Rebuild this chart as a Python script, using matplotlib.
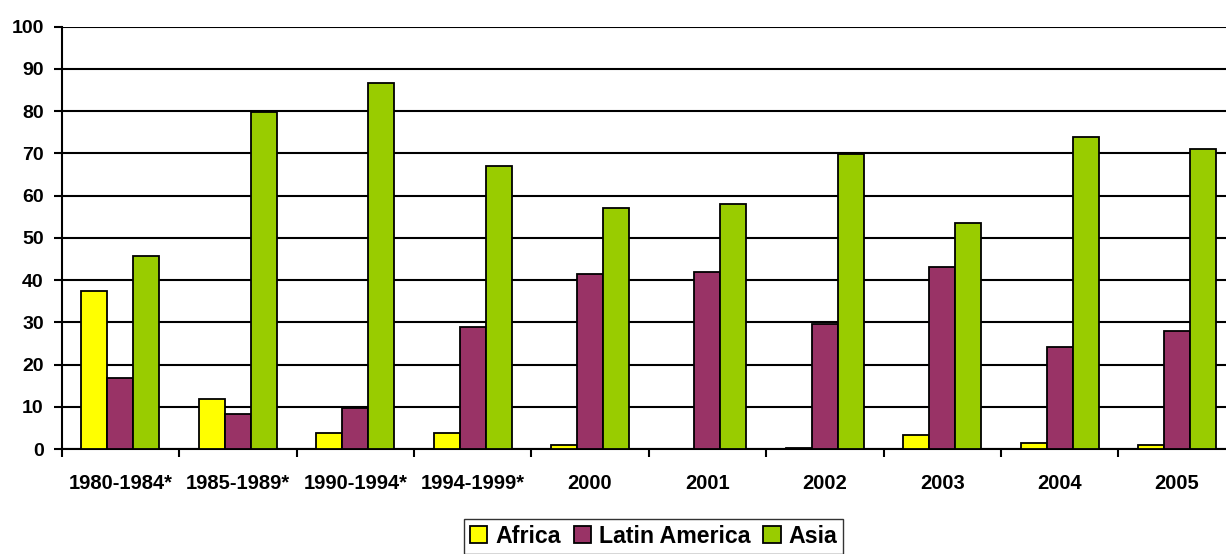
import matplotlib
matplotlib.use("Agg")
import matplotlib.pyplot as plt
import numpy as np
from matplotlib.ticker import FixedLocator, NullFormatter

categories = ["1980-1984*", "1985-1989*", "1990-1994*", "1994-1999*", "2000",
              "2001", "2002", "2003", "2004", "2005"]
africa = [37.4, 11.8, 3.8, 3.8, 0.9, 0.0, 0.3, 3.3, 1.5, 0.9]
latin_america = [16.7, 8.3, 9.6, 29.0, 41.4, 42.0, 29.5, 43.1, 24.2, 27.9]
asia = [45.6, 79.7, 86.7, 67.1, 57.1, 57.9, 69.9, 53.4, 73.9, 71.1]
series_names = ["Africa", "Latin America", "Asia"]
colors = ["#FFFF00", "#993366", "#99CC00"]

plt.rcParams['font.family'] = ['Liberation Sans', 'DejaVu Sans']
plt.rcParams['font.weight'] = 'bold'

W, H = 1226, 554
fig = plt.figure(figsize=(W / 100, H / 100), dpi=100)
left, right, top, bottom = 61.7, 1235.7, 26.7, 449.0
ax = fig.add_axes([left / W, 1 - bottom / H, (right - left) / W, (bottom - top) / H])

x = np.arange(len(categories))
bw = 0.221
for i, (vals, name, c) in enumerate(zip([africa, latin_america, asia], series_names, colors)):
    ax.bar(x + (i - 1) * bw, vals, width=bw, color=c, edgecolor='black', linewidth=1.3,
           label=name, zorder=3)

ax.set_xlim(-0.5, len(categories) - 0.5)
ax.set_ylim(0, 100)
ax.set_yticks(np.arange(0, 101, 10))
ax.yaxis.grid(True, color='black', linewidth=1.5, zorder=0)
ax.set_axisbelow(True)
for s in ['top', 'right']:
    ax.spines[s].set_visible(False)
ax.spines['left'].set_linewidth(1.5)
ax.spines['bottom'].set_linewidth(1.5)

ax.set_xticks(x)
ax.set_xticklabels(categories, fontsize=14.5, fontweight='bold')
ax.tick_params(axis='x', which='major', length=0, pad=18)
ax.xaxis.set_minor_locator(FixedLocator(np.arange(-0.5, len(categories), 1.0)))
ax.xaxis.set_minor_formatter(NullFormatter())
ax.tick_params(axis='x', which='minor', length=6, width=1.5, direction='out')
ax.tick_params(axis='y', length=5.5, width=1.5, direction='out', labelsize=14, pad=7.5)
for lab in ax.get_yticklabels():
    lab.set_fontweight('bold')

leg = fig.legend(loc='upper left', bbox_to_anchor=(464 / W, 1 - 519 / H), ncol=3,
                 fontsize=16.7, frameon=True, fancybox=False, edgecolor='black',
                 handlelength=0.75, handleheight=0.75, handletextpad=0.35,
                 columnspacing=0.55, borderpad=0.25, borderaxespad=0)
leg.get_frame().set_linewidth(1.0)
for t in leg.get_texts():
    t.set_fontweight('bold')

fig.savefig("out.png", dpi=100)
